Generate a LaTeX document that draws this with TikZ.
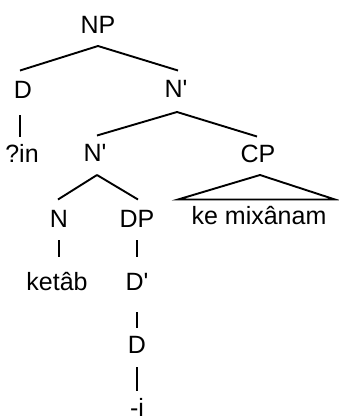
\documentclass[tikz,border=0pt]{standalone}
\usepackage{fontspec}
\setmainfont{Liberation Sans}[Ligatures=TeXOff]
\begin{document}
\begin{tikzpicture}[x=1pt,y=-1pt,
  lbl/.style={anchor=base,inner sep=0pt,outer sep=0pt,text height=17.5pt,text depth=0pt,
    font=\fontsize{25}{28}\selectfont},
  br/.style={line width=1.9pt,line cap=butt}]
\useasboundingbox (0,0) rectangle (339,418);
\node[lbl] (NP) at (98,33) {NP};
\node[lbl] (D1) at (23,98) {D};
\node[lbl] (Nb1) at (176,97) {N'};
\node[lbl] (in) at (22,162) {?in};
\node[lbl] (Nb2) at (95,161) {N'};
\node[lbl] (CP) at (258,162) {CP};
\node[lbl] (N) at (59,227) {N};
\node[lbl] (DP) at (137,227) {DP};
\node[lbl] (ke) at (259,224) {ke mixânam};
\node[lbl] (ketab) at (57,290) {ketâb};
\node[lbl] (Db) at (137,290) {D'};
\node[lbl] (D2) at (137,353) {D};
\node[lbl] (i) at (137,416) {-i};

\draw[br] ([yshift=-13pt]NP.south) -- ([xshift=-3pt,yshift=10pt]D1.north);
\draw[br] ([yshift=-13pt]NP.south) -- ([xshift=2pt,yshift=9pt]Nb1.north);
\draw[br] ([xshift=-3pt,yshift=-17pt]D1.south) -- ([xshift=-2pt,yshift=8pt]in.north);
\draw[br] ([xshift=1pt,yshift=-15pt]Nb1.south) -- ([xshift=2pt,yshift=8pt]Nb2.north);
\draw[br] ([xshift=1pt,yshift=-15pt]Nb1.south) -- ([xshift=-1pt,yshift=8pt]CP.north);
\draw[br] ([xshift=2pt,yshift=-14pt]Nb2.south) -- ([xshift=-1pt,yshift=10pt]N.north);
\draw[br] ([xshift=2pt,yshift=-14pt]Nb2.south) -- ([xshift=1pt,yshift=10pt]DP.north);
\draw[br,line join=miter] ([xshift=2pt,yshift=-13pt]CP.south) -- ([xshift=-81pt,yshift=7pt]ke.north)
  -- ([xshift=76pt,yshift=7pt]ke.north) -- cycle;
\draw[br] ([yshift=-13pt]N.south) -- ([yshift=16pt]N.south |- ketab.north);
\draw[br] ([yshift=-13pt]DP.south) -- ([yshift=16pt]Db.north);
\draw[br] ([yshift=-22pt]Db.south) -- ([yshift=8pt]D2.north);
\draw[br] ([yshift=-14pt]D2.south) -- ([yshift=8pt]i.north);
\end{tikzpicture}
\end{document}
